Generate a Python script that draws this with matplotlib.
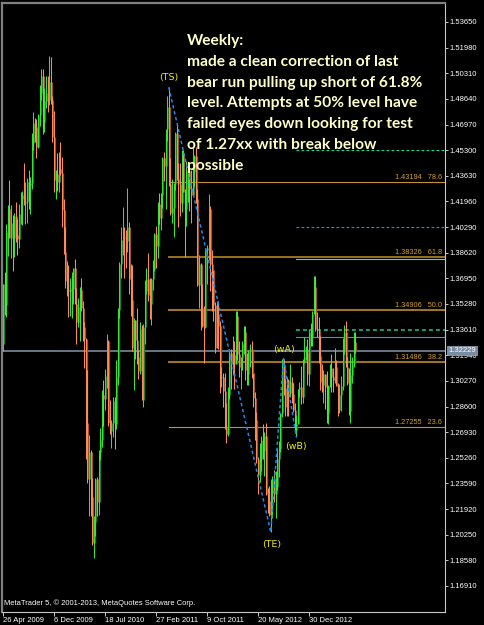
import matplotlib
matplotlib.use("Agg")
import matplotlib.pyplot as plt
import matplotlib.transforms as mtransforms
import numpy as np

# ---------------- data (EURUSD weekly) ----------------
first_open = 1.3265
closes = [1.3655,1.3520,1.3995,1.4150,1.3960,1.4055,1.3960,1.4100,1.3975,1.3950,
          1.4115,1.4210,1.4235,1.4185,1.4195,1.4325,1.4305,1.4315,1.4575,1.4710,
          1.4680,1.4550,1.4760,1.4905,1.5010,1.4715,1.4850,1.4905,1.4860,1.4975,
          1.4855,1.4615,1.4335,1.4375,1.4320,1.4410,1.4380,1.4140,1.3865,1.3680,
          1.3620,1.3615,1.3625,1.3625,1.3760,1.3530,1.3410,1.3510,1.3620,1.3505,
          1.3380,1.3300,1.2750,1.2390,1.2565,1.2270,1.1970,1.2110,1.2390,1.2235,
          1.2565,1.2640,1.2935,1.2910,1.3060,1.3285,1.2750,1.2700,1.2755,1.2895,
          1.2745,1.3055,1.3490,1.3790,1.3945,1.3965,1.3955,1.3940,1.4030,1.3690,
          1.3555,1.3240,1.3425,1.3295,1.3180,1.3090,1.3365,1.2905,1.3380,1.3615,
          1.3690,1.3585,1.3525,1.3690,1.3755,1.3985,1.3905,1.4180,1.4090,1.4235,
          1.4480,1.4430,1.4665,1.4810,1.4310,1.4120,1.4155,1.4310,1.4640,1.4345,
          1.4310,1.4185,1.4505,1.4260,1.4150,1.4385,1.4395,1.4280,1.4240,1.4390,
          1.4495,1.4215,1.3650,1.3790,1.3500,1.3385,1.3380,1.3880,1.3895,1.4145,
          1.3790,1.3750,1.3520,1.3240,1.3460,1.3385,1.3045,1.3050,1.2960,1.2720,
          1.2680,1.2935,1.3210,1.3155,1.3195,1.3140,1.3450,1.3205,1.3120,1.3175,
          1.3270,1.3345,1.3095,1.3075,1.3220,1.3235,1.3080,1.2915,1.2775,1.2515,
          1.2415,1.2515,1.2640,1.2570,1.2665,1.2290,1.2245,1.2155,1.2315,1.2385,
          1.2290,1.2335,1.2515,1.2580,1.2820,1.3130,1.2980,1.2860,1.3035,1.2950,
          1.3020,1.2940,1.2835,1.2710,1.2745,1.2975,1.2990,1.2925,1.3160,1.3180,
          1.3215,1.3070,1.3345,1.3315,1.3460,1.3640,1.3365,1.3360,1.3190,1.3020,
          1.3000,1.3075,1.2985,1.2820,1.2995,1.3110,1.3050,1.3030,1.3115,1.2995,
          1.2835,1.2935,1.2995,1.3220,1.3345,1.3120,1.3010,1.2830,1.3065,1.3140,
          1.3280,1.3223]
highs = [1.3658,1.3738,1.4050,1.4170,1.4338,1.4175,1.4105,1.4120,1.4190,1.4080,
         1.4180,1.4260,1.4265,1.4445,1.4320,1.4350,1.4400,1.4355,1.4640,1.4780,
         1.4740,1.4735,1.4765,1.4955,1.5060,1.5061,1.4935,1.5010,1.5010,1.5144,
         1.5140,1.4885,1.4785,1.4400,1.4510,1.4515,1.4580,1.4485,1.4210,1.4030,
         1.3805,1.3785,1.3695,1.3735,1.3765,1.3820,1.3630,1.3570,1.3640,1.3695,
         1.3545,1.3410,1.3305,1.3095,1.2675,1.2575,1.2395,1.2150,1.2395,1.2400,
         1.2575,1.2720,1.2970,1.3030,1.3105,1.3335,1.3295,1.2900,1.2775,1.2920,
         1.2925,1.3160,1.3505,1.3800,1.4030,1.4160,1.4030,1.4010,1.4282,1.4060,
         1.3790,1.3785,1.3435,1.3395,1.3500,1.3230,1.3410,1.3390,1.3395,1.3685,
         1.3760,1.3860,1.3700,1.3700,1.3815,1.3990,1.4035,1.4190,1.4250,1.4250,
         1.4485,1.4520,1.4670,1.4880,1.4939,1.4480,1.4345,1.4315,1.4650,1.4700,
         1.4445,1.4445,1.4530,1.4530,1.4280,1.4460,1.4440,1.4400,1.4400,1.4550,
         1.4500,1.4550,1.4280,1.3850,1.3795,1.3660,1.3515,1.3895,1.3910,1.4247,
         1.4165,1.3880,1.3650,1.3540,1.3550,1.3550,1.3420,1.3120,1.3080,1.3080,
         1.2880,1.2990,1.3235,1.3235,1.3320,1.3285,1.3485,1.3485,1.3285,1.3180,
         1.3285,1.3385,1.3385,1.3210,1.3225,1.3265,1.3285,1.3080,1.2955,1.2825,
         1.2530,1.2625,1.2670,1.2745,1.2695,1.2750,1.2330,1.2340,1.2390,1.2405,
         1.2445,1.2440,1.2590,1.2635,1.2815,1.3170,1.3172,1.3040,1.3055,1.3040,
         1.3140,1.3055,1.3015,1.2880,1.2805,1.2975,1.3020,1.3125,1.3170,1.3310,
         1.3255,1.3300,1.3365,1.3405,1.3480,1.3710,1.3711,1.3475,1.3445,1.3320,
         1.3135,1.3095,1.3075,1.3090,1.3000,1.3140,1.3200,1.3110,1.3243,1.3160,
         1.3010,1.3005,1.3060,1.3305,1.3390,1.3416,1.3180,1.3110,1.3210,1.3180,
         1.3345,1.3346]
lows = [1.3223,1.3455,1.3443,1.3840,1.3955,1.3830,1.3745,1.3835,1.3930,1.3850,
        1.3890,1.4050,1.4045,1.4170,1.4050,1.4055,1.4150,1.4115,1.4280,1.4530,
        1.4585,1.4480,1.4545,1.4690,1.4860,1.4636,1.4650,1.4805,1.4780,1.4825,
        1.4830,1.4585,1.4260,1.4215,1.4265,1.4260,1.4365,1.4030,1.3855,1.3630,
        1.3580,1.3445,1.3450,1.3435,1.3530,1.3530,1.3270,1.3375,1.3285,1.3485,
        1.3290,1.3110,1.2515,1.2360,1.2145,1.2145,1.1960,1.1876,1.2015,1.2150,
        1.2155,1.2510,1.2595,1.2730,1.2840,1.2980,1.2730,1.2680,1.2590,1.2660,
        1.2585,1.2715,1.3000,1.3435,1.3700,1.3850,1.3695,1.3760,1.3865,1.3595,
        1.3450,1.3220,1.2970,1.3170,1.3135,1.3040,1.3075,1.2905,1.2860,1.3265,
        1.3590,1.3545,1.3430,1.3390,1.3620,1.3745,1.3760,1.3830,1.4050,1.4010,
        1.4155,1.4330,1.4150,1.4590,1.4295,1.4105,1.4055,1.3965,1.4270,1.4335,
        1.4030,1.4100,1.4125,1.4255,1.3835,1.4035,1.4190,1.4135,1.4055,1.4260,
        1.4290,1.4185,1.3645,1.3500,1.3360,1.3380,1.3145,1.3370,1.3655,1.3815,
        1.3610,1.3485,1.3420,1.3210,1.3255,1.3235,1.2945,1.2985,1.2860,1.2715,
        1.2625,1.2665,1.2910,1.2975,1.3065,1.2975,1.3150,1.3165,1.3055,1.2975,
        1.3100,1.3200,1.3035,1.3000,1.3000,1.3115,1.3045,1.2855,1.2640,1.2495,
        1.2290,1.2365,1.2440,1.2515,1.2405,1.2285,1.2165,1.2145,1.2042,1.2135,
        1.2240,1.2135,1.2315,1.2400,1.2565,1.2790,1.2935,1.2800,1.2800,1.2800,
        1.2925,1.2880,1.2825,1.2690,1.2662,1.2745,1.2920,1.2875,1.2885,1.3145,
        1.3160,1.3000,1.2995,1.3255,1.3255,1.3460,1.3350,1.3310,1.3145,1.2965,
        1.2955,1.2880,1.2845,1.2750,1.2745,1.2985,1.2955,1.2955,1.3015,1.2995,
        1.2795,1.2815,1.2830,1.2965,1.3205,1.3115,1.3000,1.2805,1.2755,1.3010,
        1.3120,1.3210]

date_tick_idx = [0, 32, 64, 96, 128, 160, 192]
date_labels = ["26 Apr 2009", "6 Dec 2009", "18 Jul 2010", "27 Feb 2011",
               "9 Oct 2011", "20 May 2012", "30 Dec 2012"]

fib_start_idx = 104
fib_levels = [1.43194, 1.38326, 1.34906, 1.31486, 1.27255]
fib_names = ["78.6", "61.8", "50.0", "38.2", "23.6"]

wave_idx = [104, 168, 176, 184]
wave_px = [1.49397, 1.20416, 1.3172, 1.2662]
wave_names = ["(TS)", "(TE)", "(wA)", "(wB)"]

extra_start_idx = 184
extra_levels = [1.4530, 1.4029, 1.3822, 1.3359, 1.3311]

current_price = 1.32229
y_ticks = [1.53650, 1.51980, 1.50310, 1.48640, 1.46970, 1.45300, 1.43630,
           1.41960, 1.40290, 1.38620, 1.36950, 1.35280, 1.33610, 1.31940,
           1.30270, 1.28600, 1.26930, 1.25260, 1.23590, 1.21920, 1.20250,
           1.18580, 1.16910]

note = ("Weekly:\nmade a clean correction of last\nbear run pulling up short of 61.8%\n"
        "level. Attempts at 50% level have\nfailed eyes down looking for test\n"
        "of 1.27xx with break below\npossible")

# ---------------- figure ----------------
W, H = 484, 625
fig = plt.figure(figsize=(W / 100, H / 100), dpi=100, facecolor="black")
ax = fig.add_axes([2 / W, 13 / H, 443 / W, 609 / H], facecolor="black")

PX = 1.594  # pixels per bar
ax.set_xlim((2 - 3) / PX, (445 - 3) / PX)
ax.set_ylim(1.5365 - 590 / 1535, 1.5365 + 19 / 1535)

n = len(closes)
x = np.arange(n)
c = np.array(closes)
o = np.concatenate([[first_open], c[:-1]])
hi = np.maximum(np.array(highs), np.maximum(o, c))
lo = np.minimum(np.array(lows), np.minimum(o, c))
bull = c >= o

wick_col = np.where(bull, "#33e633", "#ff8a55")
body_col = np.where(bull, "#1f7f1f", "#a0502d")
ax.vlines(x + 0.62, np.minimum(o, c), np.maximum(o, c), colors=body_col, lw=0.95, zorder=3)
ax.vlines(x, lo, hi, colors=wick_col, lw=0.75, zorder=4)

# fibonacci levels
fib_styles = [("#c8902a", 0.8), ("#a87a22", 1.3), ("#9c7520", 1.5), ("#9c7520", 1.5), ("#c8902a", 0.8)]
blend = mtransforms.blended_transform_factory(ax.transAxes, ax.transData)
for lvl, name, (col, lw) in zip(fib_levels, fib_names, fib_styles):
    ax.plot([fib_start_idx, 400], [lvl, lvl], color=col, lw=lw, zorder=2)
    ax.text(1 - 3 / 443, lvl + 1.2 / 1535, f"{lvl:.5f}   {name}", transform=blend,
            ha="right", va="bottom", color="#d4a020", fontsize=5.3,
            family="Liberation Sans", zorder=6)

# extra horizontal lines
ex = [extra_start_idx, 400]
ax.plot(ex, [extra_levels[0]] * 2, color="#19d6a0", lw=0.8, dashes=(2.5, 2.0), zorder=2)
ax.plot(ex, [extra_levels[1]] * 2, color="#2a8cf0", lw=0.8, dashes=(2.5, 2.0), zorder=2)
ax.plot(ex, [extra_levels[2]] * 2, color="#3ee0b4", lw=0.8, zorder=2)
ax.plot(ex, [extra_levels[3]] * 2, color="#10a070", lw=1.4, dashes=(2.0, 1.6), zorder=2)
ax.plot(ex, [extra_levels[4]] * 2, color="#3a96e8", lw=0.8, zorder=2)

# current price line
ax.axhline(current_price, color="#6f7f90", lw=1.3, zorder=1)

# wave zigzag
ax.plot(wave_idx, wave_px, color="#1e88f0", lw=1.1, dashes=(2.2, 1.8), zorder=5)
offsets = {"(TS)": (0, 4, "bottom"), "(TE)": (1, -6, "top"), "(wA)": (0, 3, "bottom"), "(wB)": (0, -4, "top")}
for xi, yi, name in zip(wave_idx, wave_px, wave_names):
    dx, dy, va = offsets[name]
    ax.annotate(name, xy=(xi, yi), xytext=(dx, dy), textcoords="offset points",
                ha="center", va=va, color="#f0f000", fontsize=6.8,
                family="DejaVu Sans", zorder=7)

# note text
fig.text(187 / W, 1 - 34 / H, note, ha="left", va="top", color="#ffffc8",
         fontsize=11.2, fontweight="bold", family="Lato", linespacing=1.62)

# axes styling
for side in ["left", "top"]:
    ax.spines[side].set_color("#808080")
    ax.spines[side].set_linewidth(1.6)
for side in ["right", "bottom"]:
    ax.spines[side].set_color("#c8c8c8")
    ax.spines[side].set_linewidth(0.8)

ax.yaxis.tick_right()
ax.set_yticks(y_ticks)
ax.set_yticklabels([f"{v:.5f}" for v in y_ticks])
ax.tick_params(axis="y", direction="out", length=2.2, width=0.7, color="#c8c8c8",
               labelcolor="white", labelsize=5.5, pad=0.8)
ax.set_xticks(date_tick_idx)
ax.set_xticklabels(date_labels)
ax.tick_params(axis="x", direction="out", length=3, width=0.7, color="#c8c8c8",
               labelcolor="white", labelsize=5.5, pad=0.5)
for lab in ax.get_xticklabels() + ax.get_yticklabels():
    lab.set_family("Liberation Sans")
for lab in ax.get_xticklabels():
    lab.set_ha("left")

# current price box
ax.text(1 + 3 / 443, current_price, f"{current_price:.5f}", transform=blend,
        ha="left", va="center", color="white", fontsize=5.5, family="Liberation Sans",
        bbox=dict(boxstyle="square,pad=0.15", facecolor="#7a8ca2", edgecolor="#9aaabb", lw=0.5),
        zorder=10, clip_on=False)

fig.text(4 / W, 1 - 603 / H, "MetaTrader 5, \u00a9 2001-2013, MetaQuotes Software Corp.",
         ha="left", va="center", color="white", fontsize=5.4, family="Liberation Sans")

fig.savefig("out.png", dpi=100, facecolor="black")
